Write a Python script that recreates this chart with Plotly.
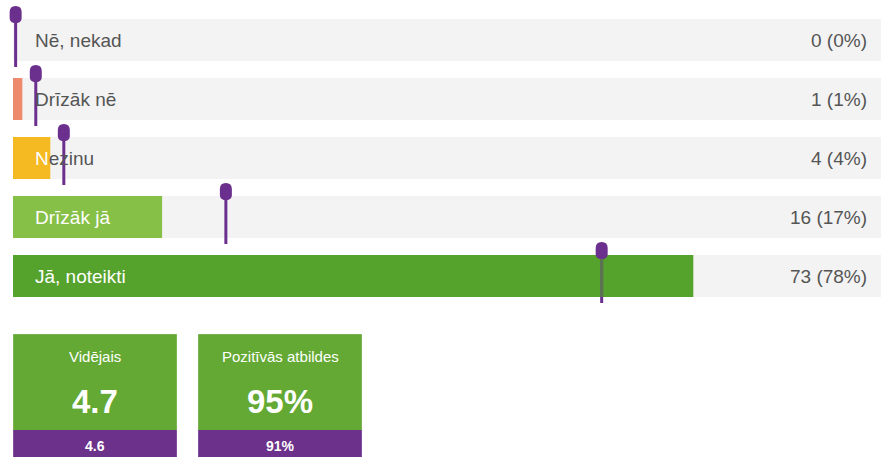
import plotly.graph_objects as go

# ---------------- data ----------------
categories = ["Nē, nekad", "Drīzāk nē", "Nezinu", "Drīzāk jā", "Jā, noteikti"]
counts = [0, 1, 4, 16, 73]
benchmark_pct = [0.3, 2.6, 5.8, 24.3, 67.2]   # purple benchmark markers (% of answers)
benchmark_mean_label = "4.6"
benchmark_positive_label = "91%"
box_titles = ["Vidējais", "Pozitīvās atbildes"]

bar_colors = ["#ee8a6c", "#ee8a6c", "#f5b922", "#86c047", "#55a22d"]
BG_GRAY = "#f3f3f3"
PURPLE = "#6b2f8d"
TEXT_GRAY = "#555555"
FONT = "Liberation Sans, Arial, sans-serif"

total = sum(counts)
pcts = [c / total * 100 for c in counts]
labels_right = [f"{c} ({round(p)}%)" for c, p in zip(counts, pcts)]
mean_val = sum((i + 1) * c for i, c in enumerate(counts)) / total
positive_val = (counts[3] + counts[4]) / total * 100

# ---------------- geometry ----------------
W, H = 881, 457
X0_PX = 13                        # pixel where 0 % sits
FULL_PX = 876                     # pixels for 100 %
px_per_pct = FULL_PX / 100
XMIN = -X0_PX / px_per_pct
XMAX = (W - X0_PX) / px_per_pct
PITCH = 59
FIRST_CENTER = 40
y_top = -FIRST_CENTER / PITCH
y_bot = (H - FIRST_CENTER) / PITCH
BAR_W = 42 / PITCH
LABEL_SIZE = 19

rows = list(range(len(categories)))

fig = go.Figure()
fig.add_trace(go.Bar(y=rows, x=[110] * len(rows), orientation="h", width=BAR_W,
                     marker=dict(color=BG_GRAY, line=dict(width=0)),
                     hoverinfo="skip", showlegend=False))
fig.add_trace(go.Bar(y=rows, x=pcts, orientation="h", width=BAR_W,
                     marker=dict(color=bar_colors, line=dict(width=0)),
                     hoverinfo="skip", showlegend=False))

# approximate Arial advance widths (em) to decide which part of a label sits on its bar
AW = {"N": .722, "D": .722, "J": .5, "ē": .556, ",": .278, " ": .278, "n": .556, "e": .556,
      "k": .5, "a": .556, "d": .556, "r": .333, "ī": .278, "z": .5, "ā": .556, "j": .222,
      "o": .556, "t": .278, "i": .222, "u": .556}

LABEL_OFF = 21
shapes = []
annotations = []
for i, (cat, p) in enumerate(zip(categories, pcts)):
    bar_px = p * px_per_pct
    avail = bar_px - LABEL_OFF
    w = 0
    n = 0
    for ch in cat:
        w += AW.get(ch, .556) * LABEL_SIZE
        if w <= avail + 2:
            n += 1
        else:
            break
    if n == 0:
        txt = cat
    elif n >= len(cat):
        txt = f'<span style="color:white">{cat}</span>'
    else:
        txt = f'<span style="color:white">{cat[:n]}</span>{cat[n:]}'
    annotations.append(dict(x=0, y=i, xref="x", yref="y", text=txt, showarrow=False,
                            xanchor="left", yanchor="middle", xshift=LABEL_OFF - 1,
                            font=dict(family=FONT, size=LABEL_SIZE, color=TEXT_GRAY)))
    annotations.append(dict(x=1, y=i, xref="paper", yref="y", text=labels_right[i],
                            showarrow=False, xanchor="right", yanchor="middle", xshift=-12,
                            font=dict(family=FONT, size=LABEL_SIZE, color=TEXT_GRAY)))

# benchmark markers
for i, b in enumerate(benchmark_pct):
    shapes.append(dict(type="line", xref="x", yref="y", ysizemode="pixel", yanchor=i,
                       x0=b, x1=b, y0=-27, y1=28, line=dict(color=PURPLE, width=3),
                       layer="above"))
for i, b in enumerate(benchmark_pct):
    if pcts[i] > b:
        shapes.append(dict(type="line", xref="x", yref="y", ysizemode="pixel", yanchor=i,
                           x0=b, x1=b, y0=-21, y1=21,
                           line=dict(color=bar_colors[i], width=3), opacity=0.6,
                           layer="above"))
for i, b in enumerate(benchmark_pct):
    shapes.append(dict(type="path", xref="x", yref="y", xsizemode="pixel", ysizemode="pixel",
                       xanchor=b, yanchor=i,
                       path="M -6,28 Q -6,34 0,34 Q 6,34 6,28 L 6,22 Q 6,18 2,17 "
                            "L -2,17 Q -6,18 -6,22 Z",
                       fillcolor=PURPLE, line=dict(width=0), layer="above"))

# summary boxes (paper coords: margins are zero so paper == page)
BOX_GREEN = "#63a933"
BOX_PURPLE = "#6b318b"
def px_x(px):
    return px / W
def px_y(px):
    return 1 - px / H

boxes = [(13, 177, box_titles[0], f"{mean_val:.1f}", benchmark_mean_label),
         (198, 362, box_titles[1], f"{round(positive_val)}%", benchmark_positive_label)]
for x0, x1, title, val, bench in boxes:
    shapes.append(dict(type="rect", xref="paper", yref="paper", x0=px_x(x0), x1=px_x(x1),
                       y0=px_y(430), y1=px_y(334), fillcolor=BOX_GREEN, line=dict(width=0)))
    shapes.append(dict(type="rect", xref="paper", yref="paper", x0=px_x(x0), x1=px_x(x1),
                       y0=px_y(470), y1=px_y(430), fillcolor=BOX_PURPLE, line=dict(width=0)))
    shapes.append(dict(type="rect", xref="paper", yref="paper", x0=px_x(x0), x1=px_x(x1),
                       y0=px_y(470), y1=px_y(334), fillcolor="rgba(0,0,0,0)",
                       line=dict(width=1, color="rgba(255,255,255,0.3)")))
    cx = px_x((x0 + x1) / 2)
    annotations.append(dict(x=cx, y=px_y(356), xref="paper", yref="paper", text=title,
                            showarrow=False, xanchor="center", yanchor="middle",
                            font=dict(family=FONT, size=15, color="white")))
    annotations.append(dict(x=cx, y=px_y(401), xref="paper", yref="paper", text=f"<b>{val}</b>",
                            showarrow=False, xanchor="center", yanchor="middle",
                            font=dict(family=FONT, size=33, color="white")))
    annotations.append(dict(x=cx, y=px_y(446), xref="paper", yref="paper", text=f"<b>{bench}</b>",
                            showarrow=False, xanchor="center", yanchor="middle",
                            font=dict(family=FONT, size=14, color="white")))

fig.update_layout(
    width=W, height=H, margin=dict(l=0, r=0, t=0, b=0),
    paper_bgcolor="white", plot_bgcolor="white",
    barmode="overlay", barcornerradius=3, showlegend=False,
    xaxis=dict(range=[XMIN, XMAX], visible=False, fixedrange=True),
    yaxis=dict(range=[y_bot, y_top], visible=False, fixedrange=True),
    shapes=shapes, annotations=annotations,
)

fig.write_html("out.html")
